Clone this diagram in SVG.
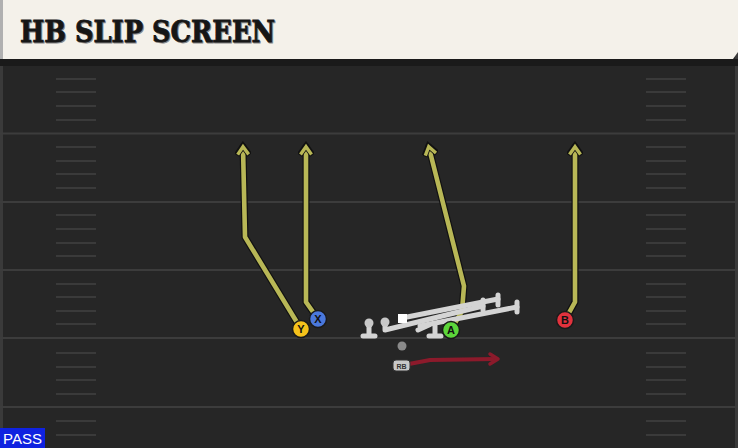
<svg xmlns="http://www.w3.org/2000/svg" width="738" height="448" viewBox="0 0 738 448">
<defs>
<style>
.yl{stroke:#3c3c3c;stroke-width:2}
.hs{stroke:#3a3a3a;stroke-width:2}
.ol{fill:none;stroke:#d4d4d4;stroke-width:5;stroke-linecap:round;stroke-linejoin:round}
.pl{stroke:#1a1a1a;stroke-width:1.5}
.lt{font-family:"Liberation Sans",Arial,sans-serif;font-weight:bold;font-size:11px;text-anchor:middle;fill:#111}
</style>
<marker id="ah" viewBox="0 0 16 16" refX="10" refY="8" markerWidth="16" markerHeight="16" markerUnits="userSpaceOnUse" orient="auto">
<path d="M2,1.5 L11,8 L2,14.5" fill="none" stroke="#111" stroke-width="6" stroke-linejoin="miter" stroke-linecap="butt"/>
<path d="M2.5,2.5 L10.3,8 L2.5,13.5" fill="none" stroke="#b8b756" stroke-width="3.4" stroke-linejoin="miter" stroke-linecap="butt"/>
</marker>
</defs>
<rect x="0" y="0" width="738" height="448" fill="#262626"/>
<rect x="0" y="0" width="3" height="448" fill="#3a3a3a"/>
<rect x="735" y="0" width="3" height="448" fill="#3a3a3a"/>
<g id="field">
<line class="yl" x1="0" y1="133.5" x2="738" y2="133.5"/>
<line class="yl" x1="0" y1="202" x2="738" y2="202"/>
<line class="yl" x1="0" y1="270" x2="738" y2="270"/>
<line class="yl" x1="0" y1="338" x2="738" y2="338"/>
<line class="yl" x1="0" y1="407" x2="738" y2="407"/>
<g class="hs">
<line x1="56" y1="79" x2="96" y2="79"/><line x1="56" y1="92" x2="96" y2="92"/><line x1="56" y1="106" x2="96" y2="106"/><line x1="56" y1="120" x2="96" y2="120"/>
<line x1="56" y1="147" x2="96" y2="147"/><line x1="56" y1="161" x2="96" y2="161"/><line x1="56" y1="174" x2="96" y2="174"/><line x1="56" y1="188" x2="96" y2="188"/>
<line x1="56" y1="215" x2="96" y2="215"/><line x1="56" y1="229" x2="96" y2="229"/><line x1="56" y1="243" x2="96" y2="243"/><line x1="56" y1="256" x2="96" y2="256"/>
<line x1="56" y1="284" x2="96" y2="284"/><line x1="56" y1="297" x2="96" y2="297"/><line x1="56" y1="311" x2="96" y2="311"/><line x1="56" y1="324" x2="96" y2="324"/>
<line x1="56" y1="353" x2="96" y2="353"/><line x1="56" y1="367" x2="96" y2="367"/><line x1="56" y1="380" x2="96" y2="380"/><line x1="56" y1="394" x2="96" y2="394"/>
<line x1="56" y1="421" x2="96" y2="421"/><line x1="56" y1="435" x2="96" y2="435"/>
<line x1="646" y1="79" x2="686" y2="79"/><line x1="646" y1="92" x2="686" y2="92"/><line x1="646" y1="106" x2="686" y2="106"/><line x1="646" y1="120" x2="686" y2="120"/>
<line x1="646" y1="147" x2="686" y2="147"/><line x1="646" y1="161" x2="686" y2="161"/><line x1="646" y1="174" x2="686" y2="174"/><line x1="646" y1="188" x2="686" y2="188"/>
<line x1="646" y1="215" x2="686" y2="215"/><line x1="646" y1="229" x2="686" y2="229"/><line x1="646" y1="243" x2="686" y2="243"/><line x1="646" y1="256" x2="686" y2="256"/>
<line x1="646" y1="284" x2="686" y2="284"/><line x1="646" y1="297" x2="686" y2="297"/><line x1="646" y1="311" x2="686" y2="311"/><line x1="646" y1="324" x2="686" y2="324"/>
<line x1="646" y1="353" x2="686" y2="353"/><line x1="646" y1="367" x2="686" y2="367"/><line x1="646" y1="380" x2="686" y2="380"/><line x1="646" y1="394" x2="686" y2="394"/>
<line x1="646" y1="421" x2="686" y2="421"/><line x1="646" y1="435" x2="686" y2="435"/>
</g>
</g>
<g id="title">
<rect x="0" y="59" width="738" height="7" fill="#1a1a1a"/>
<path d="M0,0 H738 V52 L733,59 H0 Z" fill="#f4f1ea"/>
<rect x="0" y="0" width="3" height="59" fill="#b0b0b0"/>
<text x="21" y="43" font-family="'DejaVu Serif',serif" font-weight="bold" font-size="29" textLength="255" lengthAdjust="spacingAndGlyphs" fill="#888" stroke="#888" stroke-width="0.8">HB SLIP SCREEN</text>
<text x="20" y="42" font-family="'DejaVu Serif',serif" font-weight="bold" font-size="29" textLength="255" lengthAdjust="spacingAndGlyphs" fill="#161616" stroke="#161616" stroke-width="0.8">HB SLIP SCREEN</text>
</g>
<g id="connectors" fill="none" stroke-linecap="round" stroke-linejoin="round">
<g stroke="#111" stroke-width="7">
<polyline points="301,329 245,237 243,147"/>
<polyline points="318,319 306,302 306,147"/>
<polyline points="451,330 462,311 464,286 428.8,147"/>
<polyline points="565,320 575,302 575,147"/>
</g>
<g stroke="#b8b756" stroke-width="4.6">
<polyline points="301,329 245,237 243,147" marker-end="url(#ah)"/>
<polyline points="318,319 306,302 306,147" marker-end="url(#ah)"/>
<polyline points="451,330 462,311 464,286 428.8,147" marker-end="url(#ah)"/>
<polyline points="565,320 575,302 575,147" marker-end="url(#ah)"/>
</g>
<path d="M409,364 L430,360 L496,359" stroke="#8c1a2b" stroke-width="4"/>
<path d="M490,354 L498,359 L490,364" stroke="#8c1a2b" stroke-width="3.5"/>
</g>
<g id="oline">
<g class="ol">
<path d="M385,322 V330 L483,306"/>
<path d="M483,300 V310"/>
<path d="M402,318 L498,299"/>
<path d="M498,295 V305"/>
<path d="M420,326 L517,307"/>
<path d="M517,302 V312"/>
<path d="M369,323 V336 M363,336 H375"/>
<path d="M435,326 V336 M429,336 H441"/>
<path d="M418,330 L429,325"/>
</g>
<circle cx="369" cy="323" r="4.5" fill="#c8c8c8"/>
<circle cx="385" cy="322" r="4.5" fill="#c8c8c8"/>
<rect x="398" y="314" width="9" height="9" fill="#ffffff"/>
<circle cx="402" cy="346" r="4.5" fill="#8a8a8a"/>
</g>
<g id="rb">
<rect x="393" y="360" width="17" height="11" rx="3" fill="#c8c8c8" stroke="#333" stroke-width="1"/>
<text x="401.5" y="368.5" font-family="'Liberation Sans',sans-serif" font-size="7" font-weight="bold" text-anchor="middle" fill="#333">RB</text>
</g>
<g id="Y"><circle class="pl" cx="301" cy="329" r="8.5" fill="#f5c21b"/><text class="lt" x="301" y="333">Y</text></g>
<g id="X"><circle class="pl" cx="318" cy="319" r="8.5" fill="#4a78dc"/><text class="lt" x="318" y="323">X</text></g>
<g id="A"><circle class="pl" cx="451" cy="330" r="8.5" fill="#5cd63a"/><text class="lt" x="451" y="334">A</text></g>
<g id="B"><circle class="pl" cx="565" cy="320" r="8.5" fill="#e2323d"/><text class="lt" x="565" y="324">B</text></g>
<g id="pass">
<rect x="0" y="428" width="45" height="20" fill="#0f22e0"/>
<text x="22.5" y="444" font-family="'Liberation Sans',sans-serif" font-size="15" text-anchor="middle" fill="#fff">PASS</text>
</g>
</svg>
